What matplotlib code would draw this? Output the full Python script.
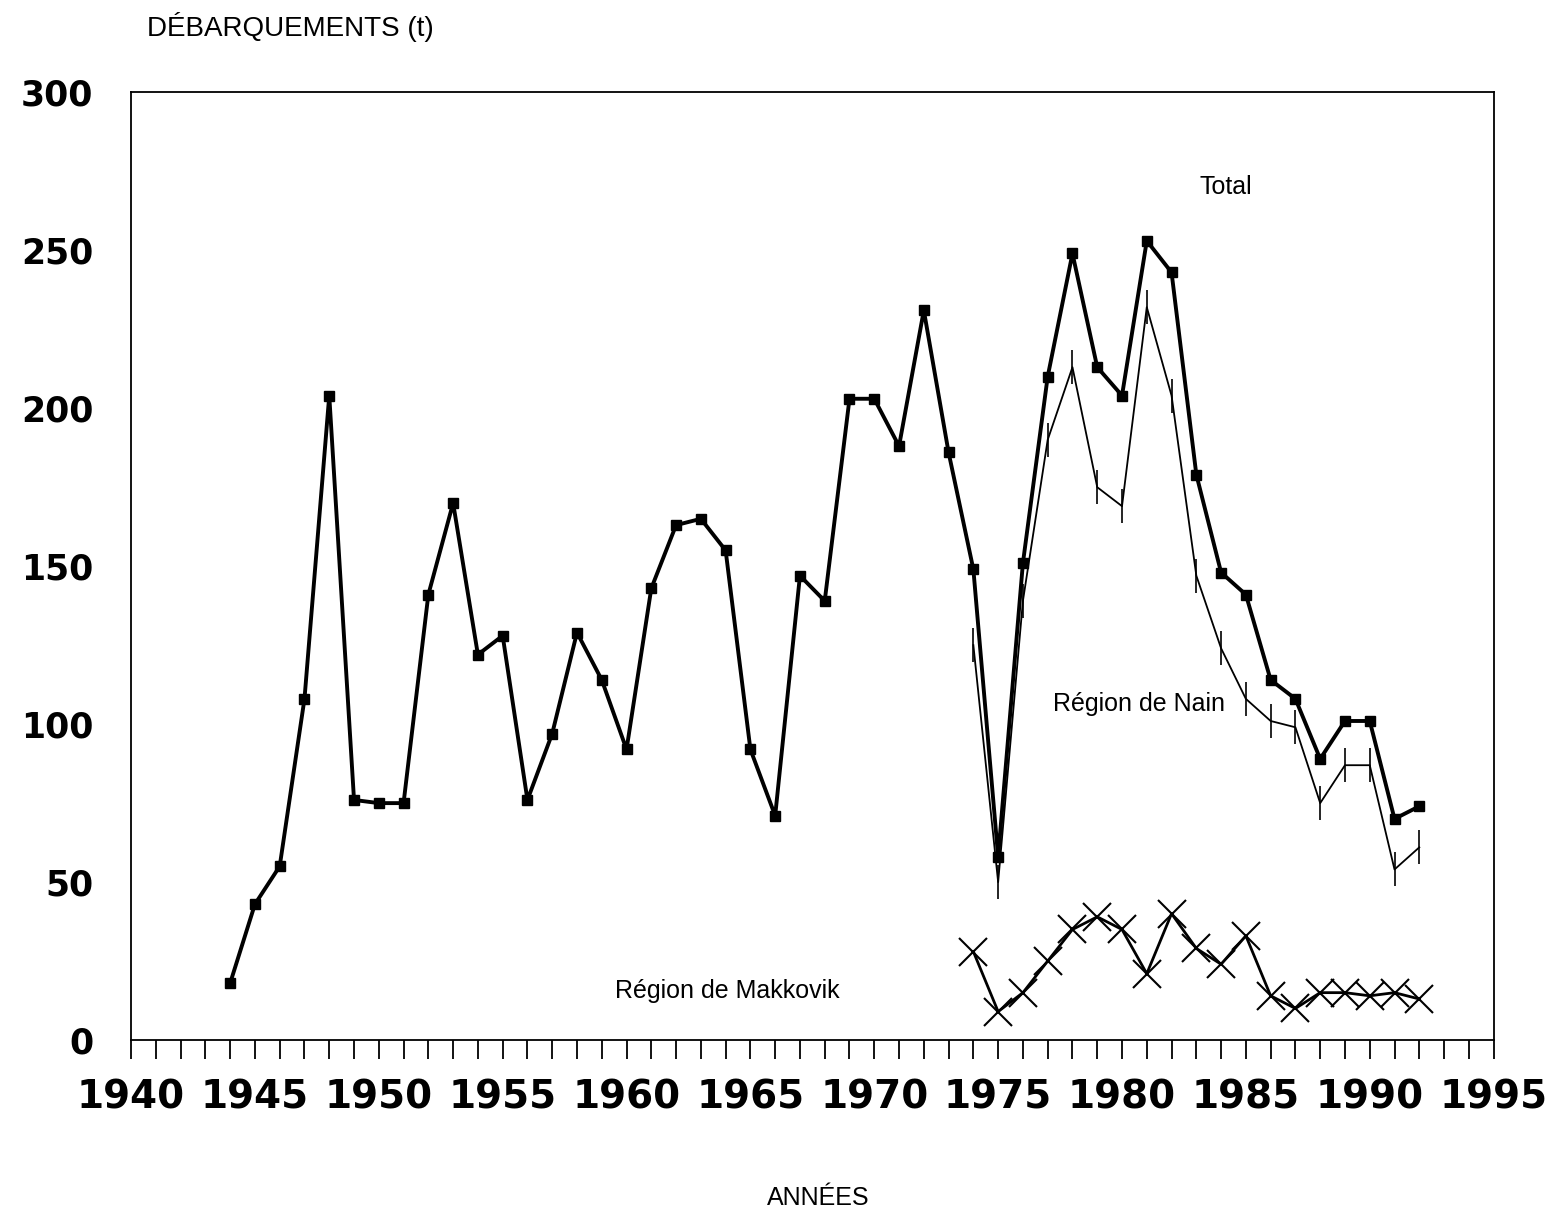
import matplotlib.pyplot as plt
import numpy as np

# Landings (t)
years_total = list(range(1944, 1993))
total = [18, 43, 55, 108, 204, 76, 75, 75, 141, 170, 122, 128, 76, 97, 129, 114, 92,
         143, 163, 165, 155, 92, 71, 147, 139, 203, 203, 188, 231, 186, 149, 58, 151,
         210, 249, 213, 204, 253, 243, 179, 148, 141, 114, 108, 89, 101, 101, 70, 74]

years_reg = list(range(1974, 1993))
nain = [125, 50, 139, 190, 213, 175, 169, 232, 204, 147, 124, 108, 101, 99, 75, 87, 87, 54, 61]
makkovik = [28, 9, 15, 25, 35, 39, 35, 21, 40, 29, 24, 33, 14, 10, 15, 15, 14, 15, 13]

plt.rcParams['font.family'] = ['Liberation Sans', 'DejaVu Sans']

fig = plt.figure(figsize=(15.51, 12.15), dpi=100)
ax = fig.add_axes([0.0845, 0.144, 0.8785, 0.780])

# total
ax.plot(years_total, total, color='black', lw=2.8, marker='s', ms=6.5,
        mfc='black', mec='black', zorder=3)
# Nain region
ax.plot(years_reg, nain, color='black', lw=1.3, marker='|', ms=24, mew=1.2, zorder=2)
# Makkovik region
ax.plot(years_reg, makkovik, color='black', lw=2.0, marker='x', ms=20, mew=1.5, zorder=2)

ax.set_xlim(1940, 1995)
ax.set_ylim(0, 300)

ax.set_xticks(np.arange(1940, 1996, 5))
ax.set_xticks(np.arange(1940, 1996, 1), minor=True)
ax.tick_params(axis='x', which='both', direction='out', length=14, width=1.3, pad=14)
ax.set_xticklabels([str(y) for y in range(1940, 1996, 5)], fontsize=28,
                   fontweight='bold', family='DejaVu Sans')

ax.set_yticks(np.arange(0, 301, 50))
ax.tick_params(axis='y', length=0, pad=27)
ax.set_yticklabels([str(v) for v in range(0, 301, 50)], fontsize=25,
                   fontweight='bold', family='DejaVu Sans')

for sp in ax.spines.values():
    sp.set_linewidth(1.3)

ax.text(1984.2, 270, 'Total', fontsize=18, ha='center', va='center')
ax.text(1980.7, 106.5, 'Région de Nain', fontsize=18, ha='center', va='center')
ax.text(1964.05, 15.5, 'Région de Makkovik', fontsize=18, ha='center', va='center')

fig.text(290 / 1551, 1 - 27 / 1215, 'DÉBARQUEMENTS (t)', fontsize=20,
         ha='center', va='center')
fig.text(818 / 1551, 1 - 1198 / 1215, 'ANNÉES', fontsize=18,
         ha='center', va='center')

fig.savefig('out.png', dpi=100, facecolor='white')
